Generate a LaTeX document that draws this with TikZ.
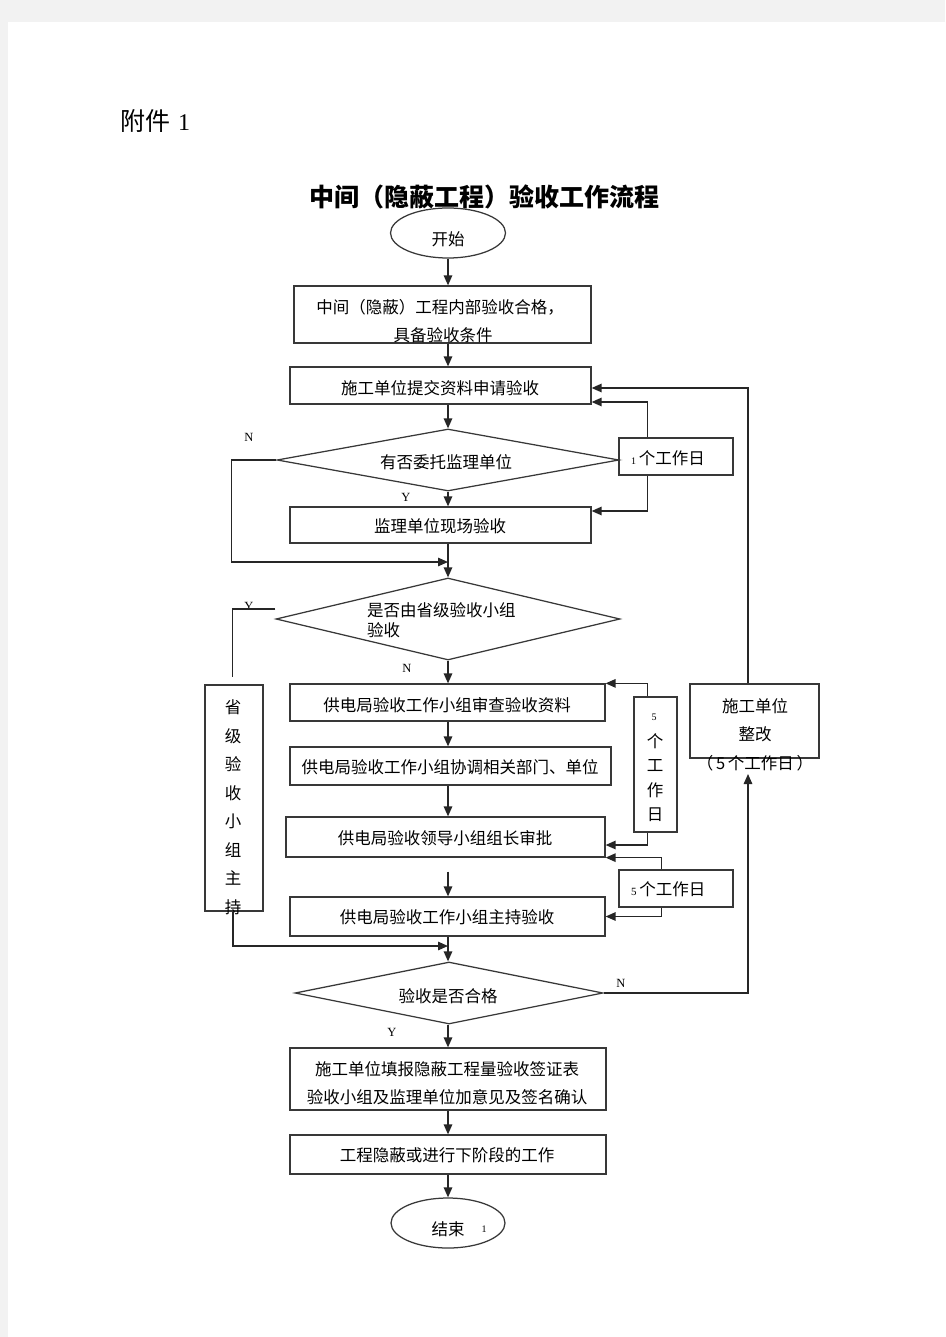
\documentclass[tikz,border=0pt]{standalone}
\usepackage{fontspec}
\setmainfont{Liberation Serif}
\newfontfamily\cjk{Noto Sans CJK SC}
\usetikzlibrary{shapes.geometric,arrows.meta}
\begin{document}
\begin{tikzpicture}[x=1pt,y=-1pt,
 line/.style={draw=black!85, line width=1.35pt},
 arr/.style={line, -{Triangle[length=10pt,width=8.5pt]}},
 box/.style={draw=black!78, line width=1.25pt, rectangle, inner sep=0pt},
 txt/.style={font=\cjk\fontsize{16.5}{20}\selectfont, inner sep=0pt},
 lat/.style={font=\fontsize{12.5}{14}\selectfont, inner sep=0pt},
 small/.style={font=\fontsize{10}{12}\selectfont, inner sep=0pt},
 dia/.style={draw=black!78, line width=1.25pt, diamond, aspect=5, inner sep=0pt},
 ell/.style={draw=black!78, line width=1.25pt, ellipse, inner sep=0pt}]
% page
\fill[black!5] (0,0) rectangle (945,1337);
\fill[white] (8,22) rectangle (945,1337);
\useasboundingbox (0,0) rectangle (945,1337);
% header
\node[anchor=west, font=\cjk\fontsize{25}{30}\selectfont, inner sep=0pt] (fj) at (120,121) {附件\hspace{8pt}{\rmfamily\fontsize{24}{30}\selectfont 1}};
\node[font=\cjk\bfseries\fontsize{25}{30}\selectfont, inner sep=0pt] (title) at (484,197) {中间（隐蔽工程）验收工作流程};
% shapes
\node[ell, minimum width=115, minimum height=50] (start) at (448,233) {};
\node[txt] (starttxt) at (448,239) {开始};
\node[box, minimum width=297, minimum height=57] (b1) at (442.5,314.5) {};
\node[txt] (b1t1) at (440,307) {中间（隐蔽）工程内部验收合格，};
\node[txt] (b1t2) at (443,335) {具备验收条件};
\node[box, minimum width=301, minimum height=37] (b2) at (440.5,385.5) {};
\node[txt] (b2t) at (440,388) {施工单位提交资料申请验收};
\node[dia, minimum width=342, minimum height=62] (d1) at (448,460) {};
\node[txt] (d1t) at (446,462) {有否委托监理单位};
\node[box, minimum width=301, minimum height=36] (b3) at (440.5,525) {};
\node[txt] (b3t) at (440,526) {监理单位现场验收};
\node[box, minimum width=114, minimum height=37] (day1) at (676,456.5) {};
\node[txt, anchor=west] (day1t) at (631,458) {{\rmfamily\fontsize{10}{12}\selectfont 1}\,个工作日};
\node[dia, minimum width=344, minimum height=82] (d2) at (448,619) {};
\node[txt, align=left, anchor=west] (d2t) at (367,620) {是否由省级验收小组\\验收};
\node[box, minimum width=315, minimum height=37] (b4) at (447.5,702.5) {};
\node[txt] (b4t) at (447,705) {供电局验收工作小组审查验收资料};
\node[box, minimum width=321, minimum height=38] (b5) at (450.5,766) {};
\node[txt] (b5t) at (450,767) {供电局验收工作小组协调相关部门、单位};
\node[box, minimum width=319, minimum height=40] (b6) at (445.5,837) {};
\node[txt] (b6t) at (445,838) {供电局验收领导小组组长审批};
\node[box, minimum width=315, minimum height=39] (b7) at (447.5,916.5) {};
\node[txt] (b7t) at (447,917) {供电局验收工作小组主持验收};
\node[box, minimum width=58, minimum height=226] (prov) at (234,798) {};
\node[txt, align=center, font=\cjk\fontsize{16.5}{28.5}\selectfont] (provt) at (233,807) {省\\级\\验\\收\\小\\组\\主\\持};
\node[box, minimum width=43, minimum height=135] (day5v) at (655.5,764.5) {};
\node[small] (day5v5) at (654,717) {5};
\node[txt, align=center, font=\cjk\fontsize{16.5}{24.3}\selectfont] (day5vt) at (655,777.5) {个\\工\\作\\日};
\node[box, minimum width=114, minimum height=37] (day5h) at (676,888.5) {};
\node[txt, anchor=west] (day5ht) at (631,889) {{\rmfamily\fontsize{11}{12}\selectfont 5}\,个工作日};
\node[box, minimum width=129, minimum height=74] (fix) at (754.5,721) {};
\node[txt, align=center, font=\cjk\fontsize{16.5}{28.5}\selectfont] (fixt) at (755,734.5) {施工单位\\整改\\（\,5\,个工作日\,）};
\node[dia, minimum width=308, minimum height=62] (d3) at (449,993) {};
\node[txt] (d3t) at (448,996) {验收是否合格};
\node[box, minimum width=316, minimum height=62] (b8) at (448,1079) {};
\node[txt, align=center, font=\cjk\fontsize{16.5}{28}\selectfont] (b8t) at (447,1083) {施工单位填报隐蔽工程量验收签证表\\验收小组及监理单位加意见及签名确认};
\node[box, minimum width=316, minimum height=39] (b9) at (448,1154.5) {};
\node[txt] (b9t) at (447,1155) {工程隐蔽或进行下阶段的工作};
\node[ell, minimum width=114, minimum height=50] (end) at (448,1223) {};
\node[txt] (endt) at (448,1229) {结束};
\node[small] (endn) at (484,1229) {1};
% labels
\node[lat] (n1) at (249,437) {N};
\node[lat] (y1) at (406,497) {Y};
\node[lat] (y2) at (249,606) {Y};
\node[lat] (n2) at (407,668) {N};
\node[lat] (n3) at (621,983) {N};
\node[lat] (y3) at (392,1032) {Y};
% joins
\coordinate (cx) at (448,0);
\coordinate (j1) at (448,562);
\coordinate (j2) at (448,946);
\coordinate (fx) at (748,774);
% connectors
\draw[arr] (start.south) -- (b1.north -| cx);
\draw[arr] (b1.south -| cx) -- (b2.north -| cx);
\draw[arr] (b2.south -| cx) -- (d1.north);
\draw[arr] (d1.south) -- (b3.north -| cx);
\draw[arr] (d1.west) -- ++(-45,0) |- (j1);
\draw[arr] (b3.south -| cx) -- (d2.north);
\draw[arr] ([xshift=29pt]day1.north west) |- ([yshift=-16.5pt]b2.east);
\draw[arr] ([xshift=29pt]day1.south west) |- ([yshift=14pt]b3.east);
\draw[line] ([yshift=10pt]d2.west) -- ++(-43,0) -- ++(0,68);
\draw[arr] (d2.south) -- (b4.north -| cx);
\draw[arr] (b4.south -| cx) -- (b5.north -| cx);
\draw[arr] (b5.south -| cx) -- (b6.north -| cx);
\draw[arr, shorten <=14pt] (b6.south -| cx) -- (b7.north -| cx);
\draw[arr] (b7.south -| cx) -- (d3.north -| cx);
\draw[arr] ([xshift=14pt]day5v.north west) |- (b4.north east);
\draw[arr] ([xshift=14pt]day5v.south west) |- ([yshift=-8pt]b6.east);
\draw[arr] ([xshift=43pt]day5h.north west) |- (b6.south east);
\draw[arr] ([xshift=43pt]day5h.south west) |- (b7.east);
\draw[arr] (prov.south -| 233,0) |- (j2);
\draw[arr] (d3.east) -- (fx |- d3.east) -- (fx);
\draw[arr] (fix.north -| fx) |- ([yshift=-2.5pt]b2.east);
\draw[arr] (d3.south -| cx) -- (b8.north -| cx);
\draw[arr] (b8.south -| cx) -- (b9.north -| cx);
\draw[arr] (b9.south -| cx) -- (end.north);
\end{tikzpicture}
\end{document}
